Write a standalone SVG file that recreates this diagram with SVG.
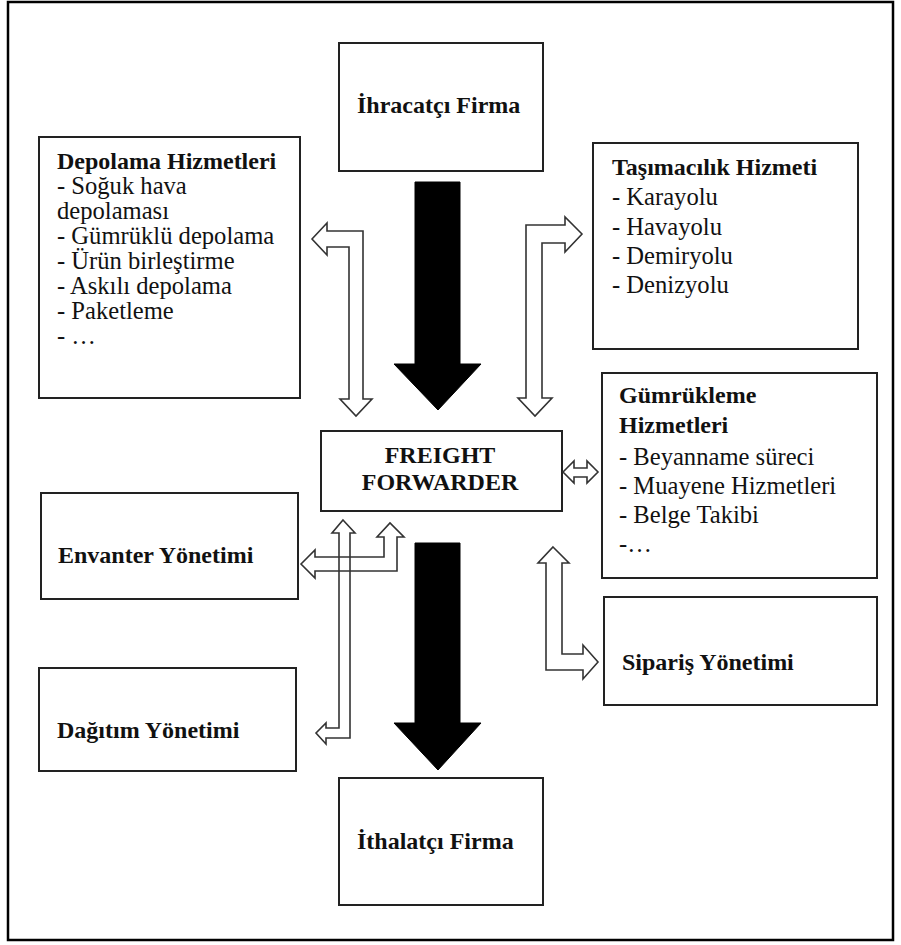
<svg xmlns="http://www.w3.org/2000/svg" width="901" height="945" viewBox="0 0 901 945">
<defs>
<style>
.frame{fill:none;stroke:#000;stroke-width:2.5}
.box{fill:#fff;stroke:#222;stroke-width:2}
.t{font-family:"Liberation Serif","Times New Roman",serif;font-size:24.6px;fill:#111}
.b{font-weight:bold;font-size:24px}
.hollow{fill:none;stroke:#333;stroke-width:1.6;stroke-linejoin:miter}
.solid{fill:#000;stroke:#000;stroke-width:1}
</style>
</defs>
<rect width="901" height="945" fill="#fff"/>
<rect class="frame" x="8" y="2" width="885" height="938"/>

<g id="ihracatci">
<rect class="box" x="339" y="43" width="204" height="128"/>
<text class="t b" x="357" y="113">İhracatçı Firma</text>
</g>

<g id="depolama">
<rect class="box" x="39" y="137" width="261" height="261"/>
<text class="t b" x="57" y="169">Depolama Hizmetleri</text>
<text class="t" x="57" y="194">- Soğuk hava</text>
<text class="t" x="57" y="219">depolaması</text>
<text class="t" x="57" y="244">- Gümrüklü depolama</text>
<text class="t" x="57" y="269">- Ürün birleştirme</text>
<text class="t" x="57" y="294">- Askılı depolama</text>
<text class="t" x="57" y="319">- Paketleme</text>
<text class="t" x="57" y="344">- …</text>
</g>

<g id="tasimacilik">
<rect class="box" x="593" y="143" width="265" height="206"/>
<text class="t b" x="612" y="175">Taşımacılık Hizmeti</text>
<text class="t" x="612" y="205">- Karayolu</text>
<text class="t" x="612" y="235">- Havayolu</text>
<text class="t" x="612" y="264">- Demiryolu</text>
<text class="t" x="612" y="293">- Denizyolu</text>
</g>

<g id="freight-forwarder">
<rect class="box" x="321" y="431" width="241" height="80"/>
<text class="t b" x="440" y="463" text-anchor="middle">FREIGHT</text>
<text class="t b" x="440" y="490" text-anchor="middle">FORWARDER</text>
</g>

<g id="gumrukleme">
<rect class="box" x="602" y="373" width="275" height="205"/>
<text class="t b" x="619" y="403">Gümrükleme</text>
<text class="t b" x="619" y="433">Hizmetleri</text>
<text class="t" x="619" y="465">- Beyanname süreci</text>
<text class="t" x="619" y="494">- Muayene Hizmetleri</text>
<text class="t" x="619" y="523">- Belge Takibi</text>
<text class="t" x="619" y="552">-…</text>
</g>

<g id="envanter">
<rect class="box" x="41" y="493" width="257" height="106"/>
<text class="t b" x="58" y="563">Envanter Yönetimi</text>
</g>

<g id="siparis">
<rect class="box" x="604" y="597" width="273" height="108"/>
<text class="t b" x="622" y="670">Sipariş Yönetimi</text>
</g>

<g id="dagitim">
<rect class="box" x="39" y="668" width="257" height="103"/>
<text class="t b" x="57" y="738">Dağıtım Yönetimi</text>
</g>

<g id="ithalatci">
<rect class="box" x="339" y="778" width="204" height="127"/>
<text class="t b" x="357" y="849">İthalatçı Firma</text>
</g>

<g id="connectors">
<polygon class="solid" points="415,182 460,182 460,364 481,364 438,410 394,364 415,364"/>
<polygon class="solid" points="415,543 460,543 460,723 481,723 438,770 394,723 415,723"/>
<polygon class="hollow" points="312,239 327,223 327,231 363,231 363,399 372,399 356,416 340,399 349,399 349,247 327,247 327,255"/>
<polygon class="hollow" points="582,234 565,217 565,225 526,225 526,398 518,398 535,416 552,398 542,398 542,243 565,243 565,252"/>
<polygon class="hollow" points="563,472 574,461 574,468 587,468 587,461 598,472 587,483 587,477 574,477 574,483"/>
<polygon class="hollow" points="553,547 569,563 562,563 562,654 583,654 583,645 598,662 583,679 583,670 546,670 546,563 538,563"/>
<polygon class="hollow" points="301,564 315,550 315,557 384,557 384,537 377,537 390,523 404,537 397,537 397,571 315,571 315,578"/>
<polygon class="hollow" points="343,520 355,533 350,533 350,738 326,738 326,744 316,733 326,723 326,728 339,728 339,533 332,533"/>
</g>
</svg>
